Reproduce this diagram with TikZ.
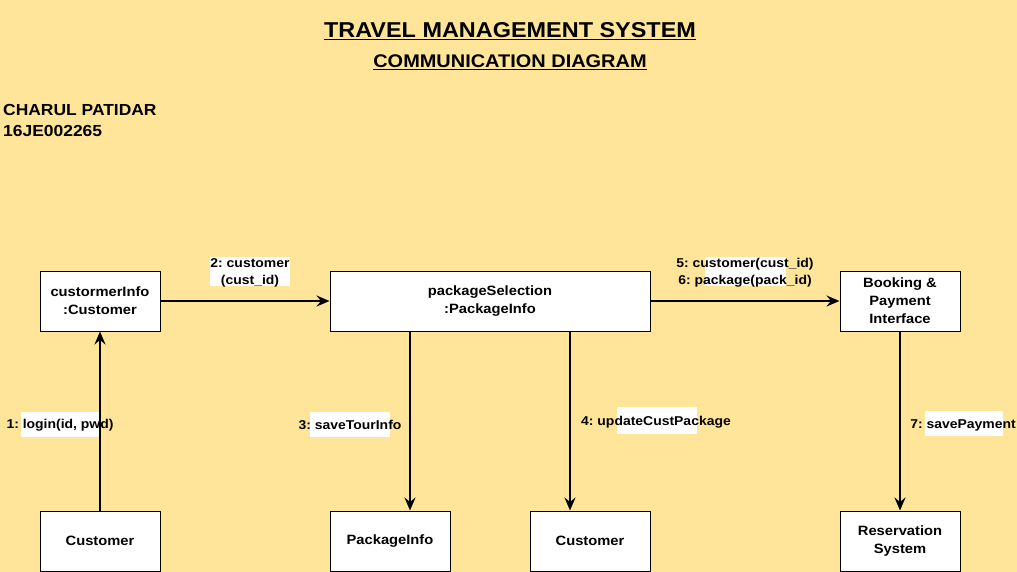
\documentclass[tikz,border=0pt]{standalone}
\usepackage{fontspec}
\setmainfont{Liberation Sans}[FakeStretch=1.09]
\usetikzlibrary{arrows.meta,calc}
\definecolor{bgyellow}{RGB}{255,229,153}
\frenchspacing
\tikzset{
  objbox/.style={draw=black, line width=1pt, fill=white, minimum width=120pt, minimum height=60pt, inner sep=0pt, align=center, font=\fontsize{13.5}{18}\selectfont\bfseries},
  msg/.style={align=center, inner sep=0pt, font=\fontsize{12.8}{17}\selectfont\bfseries},
  arr/.style={draw=black, line width=2pt, -{Stealth[length=13pt,width=11pt,inset=4.5pt]}},
  labbg/.style={fill=white},
}
\begin{document}
\begin{tikzpicture}[x=1pt,y=-1pt]
\useasboundingbox (0,0) rectangle (1017,572);
\fill[bgyellow] (0,0) rectangle (1017,572);
% titles
\node[inner sep=0pt, font=\fontsize{21.5}{24}\selectfont\bfseries] (title) at (510,31) {\underline{TRAVEL MANAGEMENT SYSTEM}};
\node[inner sep=0pt, font=\fontsize{18.3}{20}\selectfont\bfseries] (subtitle) at (510,62.5) {\underline{COMMUNICATION DIAGRAM}};
\node[inner sep=0pt, anchor=west, align=left, font=\fontsize{16}{21}\selectfont\bfseries] (author) at (3,120) {CHARUL PATIDAR\\16JE002265};
% label backgrounds
\fill[labbg] (21,412) rectangle (100,437);
\fill[labbg] (210,257) rectangle (290,286);
\fill[labbg] (310,412) rectangle (390,437);
\fill[labbg] (617,407) rectangle (697,434);
\fill[labbg] (705,257) rectangle (786,286);
\fill[labbg] (925,411) rectangle (1003,436);
% objects
\node[objbox] (ci) at (100,301) {custormerInfo\\:Customer};
\node[objbox, minimum width=320pt] (ps) at (490,301) {packageSelection\\:PackageInfo};
\node[objbox] (bp) at (900,301) {Booking \&\\Payment\\Interface};
\node[objbox] (cu1) at (100,541) {Customer};
\node[objbox] (pi) at (390,541) {PackageInfo};
\node[objbox] (cu2) at (590,541) {Customer};
\node[objbox] (rs) at (900,541) {Reservation\\System};
% connectors
\draw[arr] (cu1.north) -- (ci.south);
\draw[arr] (ci.east) -- (ps.west);
\draw[arr] ([xshift=20pt]pi.north |- ps.south) -- ([xshift=20pt]pi.north);
\draw[arr] ([xshift=-20pt]cu2.north |- ps.south) -- ([xshift=-20pt]cu2.north);
\draw[arr] (ps.east) -- (bp.west);
\draw[arr] (bp.south) -- (rs.north);
% labels
\node[msg] (l1) at (60,425) {1: login(id, pwd)};
\node[msg] (l2) at (250,272.5) {2: customer\\(cust\_id)};
\node[msg] (l3) at (350,425) {3: saveTourInfo};
\node[msg] (l4) at (656,422) {4: updateCustPackage};
\node[msg] (l5) at (745,272.5) {5: customer(cust\_id)\\6: package(pack\_id)};
\node[msg] (l7) at (963,425) {7: savePayment};
\end{tikzpicture}
\end{document}
